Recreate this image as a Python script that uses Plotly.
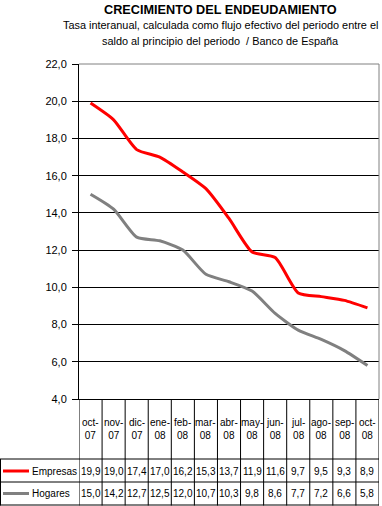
import plotly.graph_objects as go

months = ["oct-07", "nov-07", "dic-07", "ene-08", "feb-08", "mar-08", "abr-08",
          "may-08", "jun-08", "jul-08", "ago-08", "sep-08", "oct-08"]
empresas = [19.9, 19.0, 17.4, 17.0, 16.2, 15.3, 13.7, 11.9, 11.6, 9.7, 9.5, 9.3, 8.9]
hogares = [15.0, 14.2, 12.7, 12.5, 12.0, 10.7, 10.3, 9.8, 8.6, 7.7, 7.2, 6.6, 5.8]
series_names = ["Empresas", "Hogares"]
series_colors = ["#FF0000", "#808080"]
series_values = [empresas, hogares]

W, H = 382, 506
L, R, T, B = 79, 379, 64, 399
PW, PH = R - L, B - T
FONT = "Liberation Sans, Arial, sans-serif"


def px(p):
    return (p - L) / PW


def py(p):
    return (B - p) / PH


x_idx = list(range(len(months)))

fig = go.Figure()
for name, col, vals in zip(series_names, series_colors, series_values):
    fig.add_trace(go.Scatter(x=x_idx, y=vals, mode="lines", name=name,
                             line=dict(color=col, width=3, shape="spline", smoothing=0.6),
                             hoverinfo="skip", showlegend=False))

shapes = []
annotations = []

# gray top and right plot border
shapes.append(dict(type="line", xref="paper", yref="paper", x0=0, x1=1, y0=1, y1=1,
                   line=dict(color="#808080", width=1), layer="above"))
shapes.append(dict(type="line", xref="paper", yref="paper", x0=1, x1=1, y0=0, y1=1,
                   line=dict(color="#808080", width=1), layer="above"))

# table: vertical column lines
for i in range(len(months) + 1):
    shapes.append(dict(type="line", xref="x", yref="paper", x0=i - 0.5, x1=i - 0.5,
                       y0=py(399), y1=py(505.5), line=dict(color="black", width=1)))
# left border of legend column
shapes.append(dict(type="line", xref="paper", yref="paper", x0=px(0.5), x1=px(0.5),
                   y0=py(459), y1=py(505.5), line=dict(color="black", width=1)))
# horizontal row lines
for yy in [459, 482, 505]:
    shapes.append(dict(type="line", xref="paper", yref="paper", x0=px(0), x1=1,
                       y0=py(yy), y1=py(yy), line=dict(color="black", width=1)))

# category labels
for i, m in enumerate(months):
    a, b = m.split("-")
    annotations.append(dict(xref="x", yref="paper", x=i, y=py(429), text=a + "-<br>" + b,
                            showarrow=False, xanchor="center", yanchor="middle",
                            font=dict(family=FONT, size=10, color="black")))

# values rows + legend keys
row_y = [471, 493.5]
for name, col, vals, yy in zip(series_names, series_colors, series_values, row_y):
    for i, v in enumerate(vals):
        annotations.append(dict(xref="x", yref="paper", x=i, y=py(yy),
                                text=f"{v:.1f}".replace(".", ","),
                                showarrow=False, xanchor="center", yanchor="middle",
                                font=dict(family=FONT, size=10, color="black")))
    shapes.append(dict(type="line", xref="paper", yref="paper", x0=px(3), x1=px(29),
                       y0=py(yy), y1=py(yy), line=dict(color=col, width=3)))
    annotations.append(dict(xref="paper", yref="paper", x=px(29.5), y=py(yy), text=name,
                            showarrow=False, xanchor="left", yanchor="middle",
                            font=dict(family=FONT, size=10, color="black")))

# titles
annotations.append(dict(xref="paper", yref="paper", x=px(220), y=py(10),
                        text="<b>CRECIMIENTO DEL ENDEUDAMIENTO</b>", showarrow=False,
                        xanchor="center", yanchor="middle",
                        font=dict(family=FONT, size=12.7, color="black")))
annotations.append(dict(xref="paper", yref="paper", x=px(220), y=py(25),
                        text="Tasa interanual, calculada como flujo efectivo del periodo entre el",
                        showarrow=False, xanchor="center", yanchor="middle",
                        font=dict(family=FONT, size=10.9, color="black")))
annotations.append(dict(xref="paper", yref="paper", x=px(220), y=py(41),
                        text="saldo al principio del periodo  / Banco de España",
                        showarrow=False, xanchor="center", yanchor="middle",
                        font=dict(family=FONT, size=10.9, color="black")))

fig.update_layout(
    width=W, height=H,
    margin=dict(l=L, r=W - R, t=T, b=H - B, pad=0),
    paper_bgcolor="white", plot_bgcolor="white",
    separators=",.",
    font=dict(family=FONT, size=11, color="black"),
    xaxis=dict(range=[-0.5, len(months) - 0.5], showgrid=False, zeroline=False,
               showticklabels=False, ticks="", showline=True, linecolor="black",
               linewidth=1, fixedrange=True),
    yaxis=dict(range=[4, 22], dtick=2, tick0=4, tickformat=".1f", showgrid=True,
               gridcolor="black", gridwidth=1, zeroline=False, showline=True,
               linecolor="black", linewidth=1, ticks="outside", ticklen=6,
               tickcolor="black", ticklabelstandoff=3,
               tickfont=dict(family=FONT, size=11, color="black"),
               fixedrange=True),
    shapes=shapes, annotations=annotations, showlegend=False,
)

fig.write_html("out.html", config={"displayModeBar": False},
               post_script="document.body.style.margin='0';document.body.style.overflow='hidden';")
